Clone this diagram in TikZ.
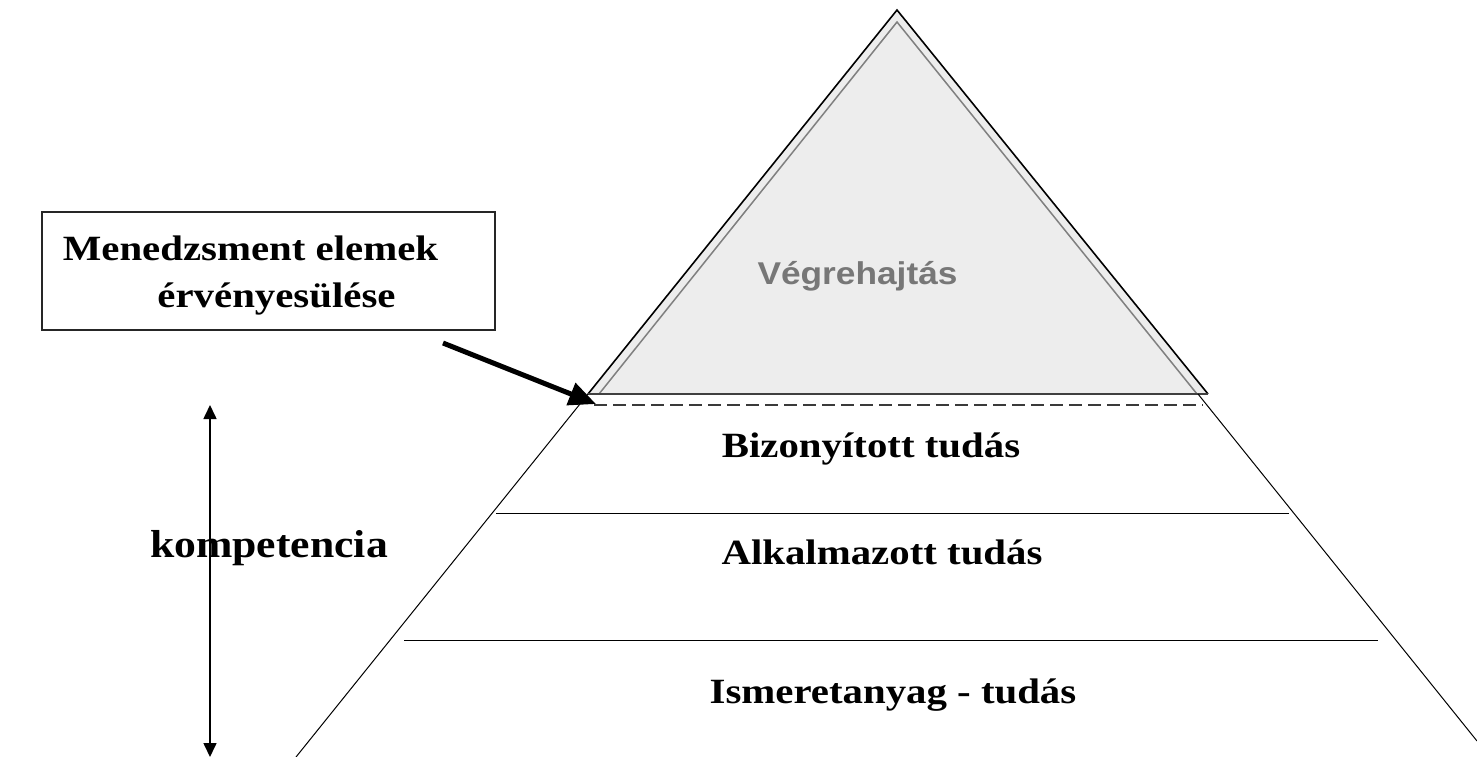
\documentclass[tikz,border=0pt]{standalone}
\usepackage{fontspec}
\usepackage{graphicx}
\setmainfont{Liberation Serif}
\setsansfont{Liberation Sans}
\usetikzlibrary{arrows.meta}
\definecolor{topfill}{HTML}{EDEDED}
\definecolor{toptext}{HTML}{777777}
\definecolor{innergray}{HTML}{808080}
\definecolor{dashgray}{HTML}{3A3A3A}
\tikzset{
  lbl/.style={inner sep=0pt, anchor=base, font=\fontsize{35.5}{42}\selectfont\bfseries},
  biglbl/.style={inner sep=0pt, anchor=base, font=\fontsize{39}{46}\selectfont\bfseries},
  toplbl/.style={inner sep=0pt, anchor=base, text=toptext, font=\sffamily\fontsize{31.5}{37}\selectfont\bfseries},
  thin/.style={line width=1pt, black},
  boxline/.style={line width=1.3pt, black!85},
}
\begin{document}
\begin{tikzpicture}[x=1pt,y=-1pt]
\useasboundingbox (0,0) rectangle (1477,757);
\clip (0,0) rectangle (1477,757);
% top triangle
\coordinate (apex) at (897,10);
\coordinate (tl) at (588,394);
\coordinate (tr) at (1208,394);
\coordinate (iapex) at (897,22);
\coordinate (itl) at (599,394);
\coordinate (itr) at (1197,394);
\fill[topfill] (apex) -- (tl) -- (tr) -- cycle;
\draw[line width=1.5pt, innergray] (itl) -- (iapex) -- (itr);
\draw[line width=1.6pt, black, line join=miter] (tl) -- (apex) -- (tr);
\draw[line width=2pt, black!75] (tl) -- (tr);
% lower pyramid sides
\coordinate (bl) at (296,757);
\coordinate (rs) at (1198,394);
\coordinate (br) at (1477,741);
\draw[thin] (tl) -- (bl);
\draw[thin] (rs) -- (br);
% dashed line
\coordinate (d1) at (594,405);
\coordinate (d2) at (1203,405);
\draw[line width=1.3pt, dashgray, dash pattern=on 13pt off 6pt] (d1) -- (d2);
% horizontal lines
\coordinate (h1a) at (496,513);
\coordinate (h1b) at (1289,513);
\coordinate (h2a) at (404,640);
\coordinate (h2b) at (1378,640);
\draw[thin] (h1a) -- (h1b);
\draw[thin] (h2a) -- (h2b);
% box
\node[draw, boxline, minimum width=453pt, minimum height=118pt, inner sep=0pt] (box) at (268.5,271) {};
\node[lbl] (m1) at (250.5,260) {\scalebox{1.15}[1]{Menedzsment elemek}};
\node[lbl] (m2) at (276.5,307) {\scalebox{1.15}[1]{érvényesülése}};
% thick arrow
\coordinate (as) at (443,343);
\coordinate (ae) at (596,404);
\draw[line width=5pt, -{Triangle[length=27pt,width=23pt]}] (as) -- (ae);
% texts in pyramid
\node[toplbl] (veg) at (857.5,284) {\scalebox{1.12}[1]{Végrehajtás}};
\node[lbl] (biz) at (871,457) {\scalebox{1.15}[1]{Bizonyított tudás}};
\node[lbl] (alk) at (882,564) {\scalebox{1.15}[1]{Alkalmazott tudás}};
\node[lbl] (ism) at (893,703) {\scalebox{1.15}[1]{Ismeretanyag - tudás}};
% kompetencia
\node[biglbl] (komp) at (269,557) {\scalebox{1.12}[1]{kompetencia}};
\coordinate (kt) at (210,405);
\coordinate (kb) at (210,757);
\draw[line width=1.6pt, {Triangle[length=14pt,width=13pt]}-{Triangle[length=14pt,width=13pt]}] (kt) -- (kb);
\end{tikzpicture}
\end{document}
